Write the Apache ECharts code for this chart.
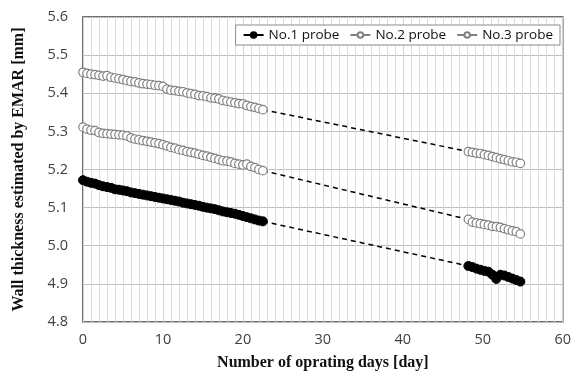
<!DOCTYPE html>
<html>
<head>
<meta charset="utf-8">
<script src="https://cdn.jsdelivr.net/npm/echarts@6/dist/echarts.min.js"></script>
<style>html,body{margin:0;padding:0;background:#fff}#c{width:574px;height:376px}</style>
</head>
<body>
<div id="c"></div>
<script>
// Days (x) for the two measuring periods
var days1 = [0,0.5,1,1.5,2,2.5,3,3.5,4,4.5,5,5.5,6,6.5,7,7.5,8,8.5,9,9.5,10,10.5,11,11.5,12,12.5,13,13.5,14,14.5,15,15.5,16,16.5,17,17.5,18,18.5,19,19.5,20,20.5,21,21.5,22,22.5];
var days2 = [48.2,48.7,49.2,49.7,50.2,50.7,51.2,51.7,52.2,52.7,53.2,53.7,54.2,54.7];

var probe1a = [5.172,5.168,5.165,5.163,5.159,5.156,5.154,5.152,5.148,5.147,5.145,5.143,5.140,5.138,5.136,5.134,5.132,5.130,5.128,5.126,5.124,5.122,5.120,5.118,5.116,5.113,5.111,5.109,5.107,5.105,5.102,5.100,5.098,5.096,5.093,5.090,5.088,5.086,5.084,5.081,5.078,5.075,5.072,5.069,5.066,5.064];
var probe1b = [4.947,4.944,4.940,4.937,4.934,4.932,4.924,4.913,4.924,4.922,4.918,4.914,4.910,4.906];

var probe2a = [5.311,5.306,5.303,5.302,5.297,5.295,5.294,5.293,5.292,5.291,5.290,5.288,5.283,5.280,5.278,5.276,5.274,5.272,5.270,5.268,5.265,5.262,5.258,5.256,5.252,5.250,5.247,5.245,5.243,5.240,5.237,5.235,5.232,5.229,5.226,5.223,5.222,5.220,5.216,5.214,5.212,5.214,5.208,5.205,5.200,5.197];
var probe2b = [5.069,5.062,5.060,5.058,5.056,5.054,5.051,5.050,5.048,5.045,5.042,5.039,5.037,5.031];

var probe3a = [5.455,5.452,5.450,5.449,5.447,5.445,5.446,5.442,5.440,5.438,5.436,5.433,5.431,5.430,5.427,5.425,5.424,5.423,5.421,5.420,5.418,5.411,5.408,5.407,5.405,5.404,5.401,5.399,5.397,5.394,5.393,5.391,5.388,5.387,5.385,5.381,5.379,5.377,5.375,5.373,5.372,5.368,5.365,5.363,5.360,5.357];
var probe3b = [5.247,5.245,5.243,5.242,5.239,5.237,5.234,5.231,5.228,5.226,5.223,5.220,5.219,5.216];

var seriesNames = ['No.1 probe','No.2 probe','No.3 probe'];
var xTicks = [0,10,20,30,40,50,60];
var yTicks = [4.8,4.9,5.0,5.1,5.2,5.3,5.4,5.5,5.6];

function pairs(xs, ys){ return xs.map(function(x,i){ return [x, ys[i]]; }); }
function joined(a, b){ return pairs(days1, a).concat([[35,'-']]).concat(pairs(days2, b)); }
function bridge(a, b){ return [[days1[days1.length-1], a[a.length-1]],[days2[0], b[0]]]; }

var chart = echarts.init(document.getElementById('c'), null, {renderer:'canvas'});
var dashStyle = {color:'#000', width:1.5, type:[5,4]};
chart.setOption({
  animation:false,
  backgroundColor:'#fff',
  grid:{left:83, right:10, top:17, bottom:51, show:true, borderColor:'#404040', borderWidth:1.5, backgroundColor:'transparent'},
  legend:{
    data:seriesNames, right:14, top:25, padding:[3,7,3,7], itemGap:10,
    itemWidth:20, itemHeight:7,
    backgroundColor:'#fff', borderColor:'#8c8c8c', borderWidth:1,
    textStyle:{fontFamily:'Open Sans', fontSize:13.5, color:'#111'}
  },
  xAxis:{
    type:'value', min:xTicks[0], max:xTicks[xTicks.length-1], interval:10,
    name:'Number of oprating days [day]', nameLocation:'middle', nameGap:33,
    nameTextStyle:{fontFamily:'Liberation Serif', fontWeight:'bold', fontSize:16, color:'#111'},
    axisLine:{show:false}, axisTick:{show:false},
    axisLabel:{margin:10, fontFamily:'Open Sans', fontSize:14.5, color:'#404040'},
    splitLine:{show:true, lineStyle:{color:'#d4d4d4', width:1}},
    minorTick:{show:false, splitNumber:10},
    minorSplitLine:{show:true, lineStyle:{color:'#dcdcdc', width:1}}
  },
  yAxis:{
    type:'value', min:yTicks[0], max:yTicks[yTicks.length-1], interval:0.1,
    name:'Wall thickness estimated by EMAR [mm]', nameLocation:'middle', nameGap:56,
    nameTextStyle:{fontFamily:'Liberation Serif', fontWeight:'bold', fontSize:16, color:'#111'},
    axisLine:{show:false}, axisTick:{show:false},
    axisLabel:{margin:15, fontFamily:'Open Sans', fontSize:14.5, color:'#404040', formatter:function(v){return v.toFixed(1);}},
    splitLine:{show:true, lineStyle:{color:'#bdbdbd', width:1}}
  },
  series:[
    {name:'b1', type:'line', data:bridge(probe1a, probe1b), symbol:'none', lineStyle:dashStyle, z:1, silent:true},
    {name:'b2', type:'line', data:bridge(probe2a, probe2b), symbol:'none', lineStyle:dashStyle, z:1, silent:true},
    {name:'b3', type:'line', data:bridge(probe3a, probe3b), symbol:'none', lineStyle:dashStyle, z:1, silent:true},
    {name:seriesNames[0], type:'line', data:joined(probe1a, probe1b), connectNulls:false,
     symbol:'circle', symbolSize:9, showAllSymbol:true,
     itemStyle:{color:'#000', borderColor:'#000', borderWidth:1},
     lineStyle:{color:'#000', width:1.5}, z:3},
    {name:seriesNames[1], type:'line', data:joined(probe2a, probe2b), connectNulls:false,
     symbol:'circle', symbolSize:8.5, showAllSymbol:true,
     itemStyle:{color:'#fff', borderColor:'#808080', borderWidth:1.2},
     lineStyle:{color:'#808080', width:1}, z:3},
    {name:seriesNames[2], type:'line', data:joined(probe3a, probe3b), connectNulls:false,
     symbol:'circle', symbolSize:8.5, showAllSymbol:true,
     itemStyle:{color:'#fff', borderColor:'#808080', borderWidth:1.2},
     lineStyle:{color:'#808080', width:1}, z:3}
  ]
});
</script>
</body>
</html>
